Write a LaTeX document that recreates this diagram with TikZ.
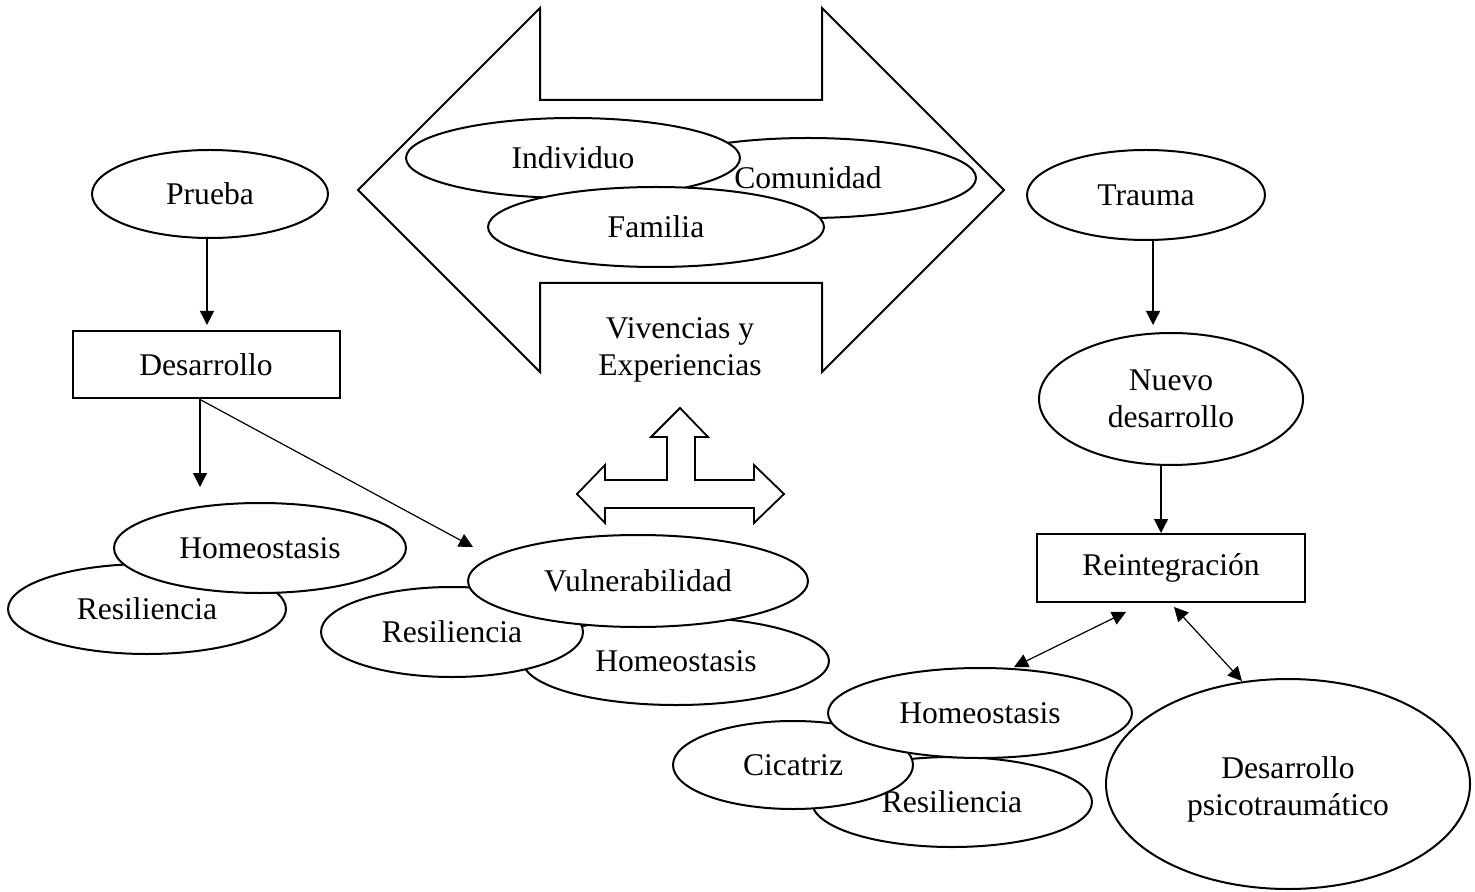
\documentclass[tikz,border=0pt]{standalone}
\usepackage{fontspec}
\setmainfont{Liberation Serif}
\usetikzlibrary{shapes.geometric,arrows.meta}
\begin{document}
\begin{tikzpicture}[x=0.5pt,y=-0.5pt,
  txt/.style={font=\fontsize{15.8}{18.5}\selectfont,align=center},
  ell/.style={ellipse,draw,line width=1pt,fill=white,inner sep=0pt,txt},
  boxnode/.style={rectangle,draw,line width=1pt,fill=white,inner sep=0pt,txt},
  conn/.style={line width=0.6pt,-{Triangle[length=7pt,width=7pt]}},
  dconn/.style={line width=0.6pt,{Triangle[length=7pt,width=7pt]}-{Triangle[length=7pt,width=7pt]}},
  bigarrow/.style={draw,line width=1pt,fill=white,line join=miter}]
\useasboundingbox (0,0) rectangle (1475,892);

% big left-right double arrow
\draw[bigarrow] (358,190) -- (540,8) -- (540,100) -- (822,100) -- (822,8) -- (1004,190)
  -- (822,372) -- (822,283) -- (540,283) -- (540,372) -- cycle;
\node[ell,minimum width=168pt,minimum height=40pt] (comunidad) at (808,178) {Comunidad};
\node[ell,minimum width=167pt,minimum height=40pt] (individuo) at (573,158) {Individuo};
\node[ell,minimum width=168pt,minimum height=40pt] (familia) at (656,227) {Familia};
\node[txt] (vivencias) at (680,350) {Vivencias y\\Experiencias};

% three-way arrow
\draw[bigarrow,line width=0.9pt] (680,408) -- (708,437) -- (695,437) -- (695,480) -- (754,480)
  -- (754,465) -- (784,494) -- (754,523) -- (754,508) -- (605,508) -- (605,523)
  -- (577,494) -- (605,465) -- (605,480) -- (667,480) -- (667,437) -- (651,437) -- cycle;

% left column
\node[ell,minimum width=118pt,minimum height=44pt] (prueba) at (210,194) {Prueba};
\node[boxnode,minimum width=133.5pt,minimum height=33.5pt] (desarrollo) at (206,365) {Desarrollo};
\coordinate (p1) at (207,325);
\draw[conn] (prueba.south -| p1) -- (p1);
\coordinate (a1) at (200,487);
\coordinate (a2) at (473,547);
\draw[conn] (desarrollo.south -| a1) -- (a1);
\draw[conn] (desarrollo.south -| a1) -- (a2);

\node[ell,minimum width=139pt,minimum height=45pt] (resL) at (147,609) {Resiliencia};
\node[ell,minimum width=146pt,minimum height=45pt] (homeoL) at (260,548) {Homeostasis};

% middle group
\node[ell,minimum width=153pt,minimum height=44pt] (homeoM) at (676,661) {Homeostasis};
\node[ell,minimum width=131pt,minimum height=45pt] (resM) at (452,632) {Resiliencia};
\node[ell,minimum width=170pt,minimum height=46pt] (vuln) at (638,581) {Vulnerabilidad};

% right column
\node[ell,minimum width=119pt,minimum height=45pt] (trauma) at (1146,195) {Trauma};
\node[ell,minimum width=132pt,minimum height=66pt] (nuevo) at (1171,399) {Nuevo\\desarrollo};
\node[boxnode,minimum width=134pt,minimum height=34pt] (reint) at (1171,568) {Reintegración};
\coordinate (t1) at (1153,325);
\draw[conn] (trauma.south -| t1) -- (t1);
\coordinate (t2) at (1161,533);
\draw[conn] (nuevo.south -| t2) -- (t2);

% bottom right group
\node[ell,minimum width=140pt,minimum height=45pt] (resR) at (952,802) {Resiliencia};
\node[ell,minimum width=120pt,minimum height=44pt] (cicatriz) at (793,765) {Cicatriz};
\node[ell,minimum width=152pt,minimum height=45pt] (homeoR) at (980,713) {Homeostasis};
\node[ell,minimum width=182pt,minimum height=105pt] (psico) at (1288,784)
  {\begin{tabular}{@{}c@{}}\rule{0pt}{19pt}Desarrollo\\psicotraumático\end{tabular}};

\coordinate (d1a) at (1126,612);
\coordinate (d1b) at (1014,667);
\coordinate (d2a) at (1174,607);
\coordinate (d2b) at (1242,681);
\draw[dconn] (d1a) -- (d1b);
\draw[dconn] (d2a) -- (d2b);
\end{tikzpicture}
\end{document}
